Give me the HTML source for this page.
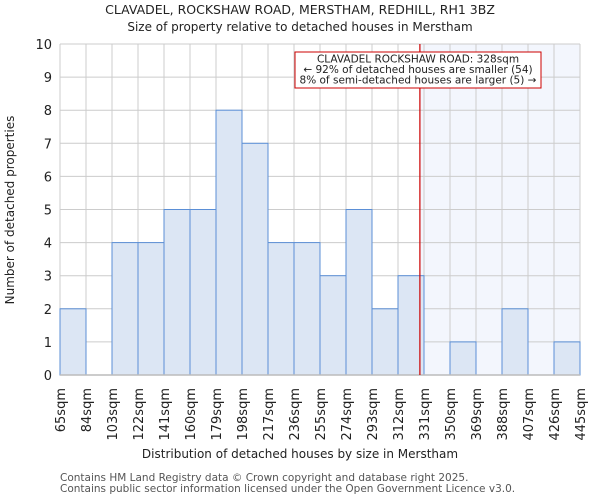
<!DOCTYPE html>
<html><head><meta charset="utf-8"><style>
body{margin:0;background:#fff;font-family:"DejaVu Sans","Liberation Sans",sans-serif;}
</style></head><body>
<svg id="chart" width="600" height="500" xmlns="http://www.w3.org/2000/svg" font-family="DejaVu Sans, Liberation Sans, sans-serif">
<text x="300" y="14" text-anchor="middle" font-size="12.5" fill="#222">CLAVADEL, ROCKSHAW ROAD, MERSTHAM, REDHILL, RH1 3BZ</text>
<text x="300" y="31" text-anchor="middle" font-size="12" fill="#222">Size of property relative to detached houses in Merstham</text>
<g id="plot"></g>
<text x="300" y="458" text-anchor="middle" font-size="12" fill="#222">Distribution of detached houses by size in Merstham</text>
<text transform="translate(14,210) rotate(-90)" text-anchor="middle" font-size="12" fill="#222">Number of detached properties</text>
<text x="60" y="481" font-size="10.5" fill="#555">Contains HM Land Registry data © Crown copyright and database right 2025.</text>
<text x="60" y="492" font-size="10.5" fill="#555">Contains public sector information licensed under the Open Government Licence v3.0.</text>
</svg>
<script>
const categories=["65sqm","84sqm","103sqm","122sqm","141sqm","160sqm","179sqm","198sqm","217sqm","236sqm","255sqm","274sqm","293sqm","312sqm","331sqm","350sqm","369sqm","388sqm","407sqm","426sqm","445sqm"];
const counts=[2,0,4,4,5,5,8,7,4,4,3,5,2,3,0,1,0,2,0,1];
const yTicks=[0,1,2,3,4,5,6,7,8,9,10];
const binStart=65, binWidth=19, propertySize=328;
const X0=60,X1=580,Y0=375,Y1=44;
const nb=counts.length;
const xs=v=>X0+(v-binStart)/(binWidth*nb)*(X1-X0);
const xi=i=>X0+i*(X1-X0)/nb;
const ys=v=>Y0-v/10*(Y0-Y1);
const NS="http://www.w3.org/2000/svg";
const g=document.getElementById('plot');
function mk(t,a){const e=document.createElementNS(NS,t);for(const k in a)e.setAttribute(k,a[k]);g.appendChild(e);return e;}
let e=mk('rect',{x:xs(propertySize),y:Y1,width:X1-xs(propertySize),height:Y0-Y1,fill:'#f3f6fd'});


for(const t of yTicks){
 e=mk('line',{x1:X0,x2:X1,y1:ys(t),y2:ys(t),stroke:'#ccc','stroke-width':1});
 
 
 e=mk('text',{x:X0-8,y:ys(t)+5,'text-anchor':'end','font-size':13,fill:'#222'});
 e.textContent=t;
 
 
}
for(let i=0;i<=nb;i++){
 e=mk('line',{x1:xi(i),x2:xi(i),y1:Y1,y2:Y0,stroke:'#ccc','stroke-width':1});
 
 
}
counts.forEach((c,i)=>{
 if(c<=0)return;
 e=mk('rect',{x:xi(i),y:ys(c),width:xi(i+1)-xi(i),height:Y0-ys(c),fill:'#dce6f4',stroke:'#5b8fd6','stroke-width':1});
 
 
});
e=mk('line',{x1:X0,x2:X1,y1:Y0,y2:Y0,stroke:'#bbb','stroke-width':1.5});


categories.forEach((c,i)=>{
 const x=xi(i);
 e=mk('text',{transform:`translate(${x+5},388) rotate(-90)`,'text-anchor':'end','font-size':13,fill:'#222'});
 e.textContent=c;
 
 
});
const px=xs(propertySize);
e=mk('line',{x1:px,x2:px,y1:Y1,y2:Y0,stroke:'#cc0000','stroke-width':1.2});


e=mk('rect',{x:295,y:52,width:246,height:36,fill:'#fff',stroke:'#cc0000','stroke-width':1});


["CLAVADEL ROCKSHAW ROAD: 328sqm","← 92% of detached houses are smaller (54)","8% of semi-detached houses are larger (5) →"].forEach((t,i)=>{
 e=mk('text',{x:418,y:62.5+i*10.5,'text-anchor':'middle','font-size':10.5,fill:'#222'});
 e.textContent=t;
 
 
});
</script>
</body></html>
